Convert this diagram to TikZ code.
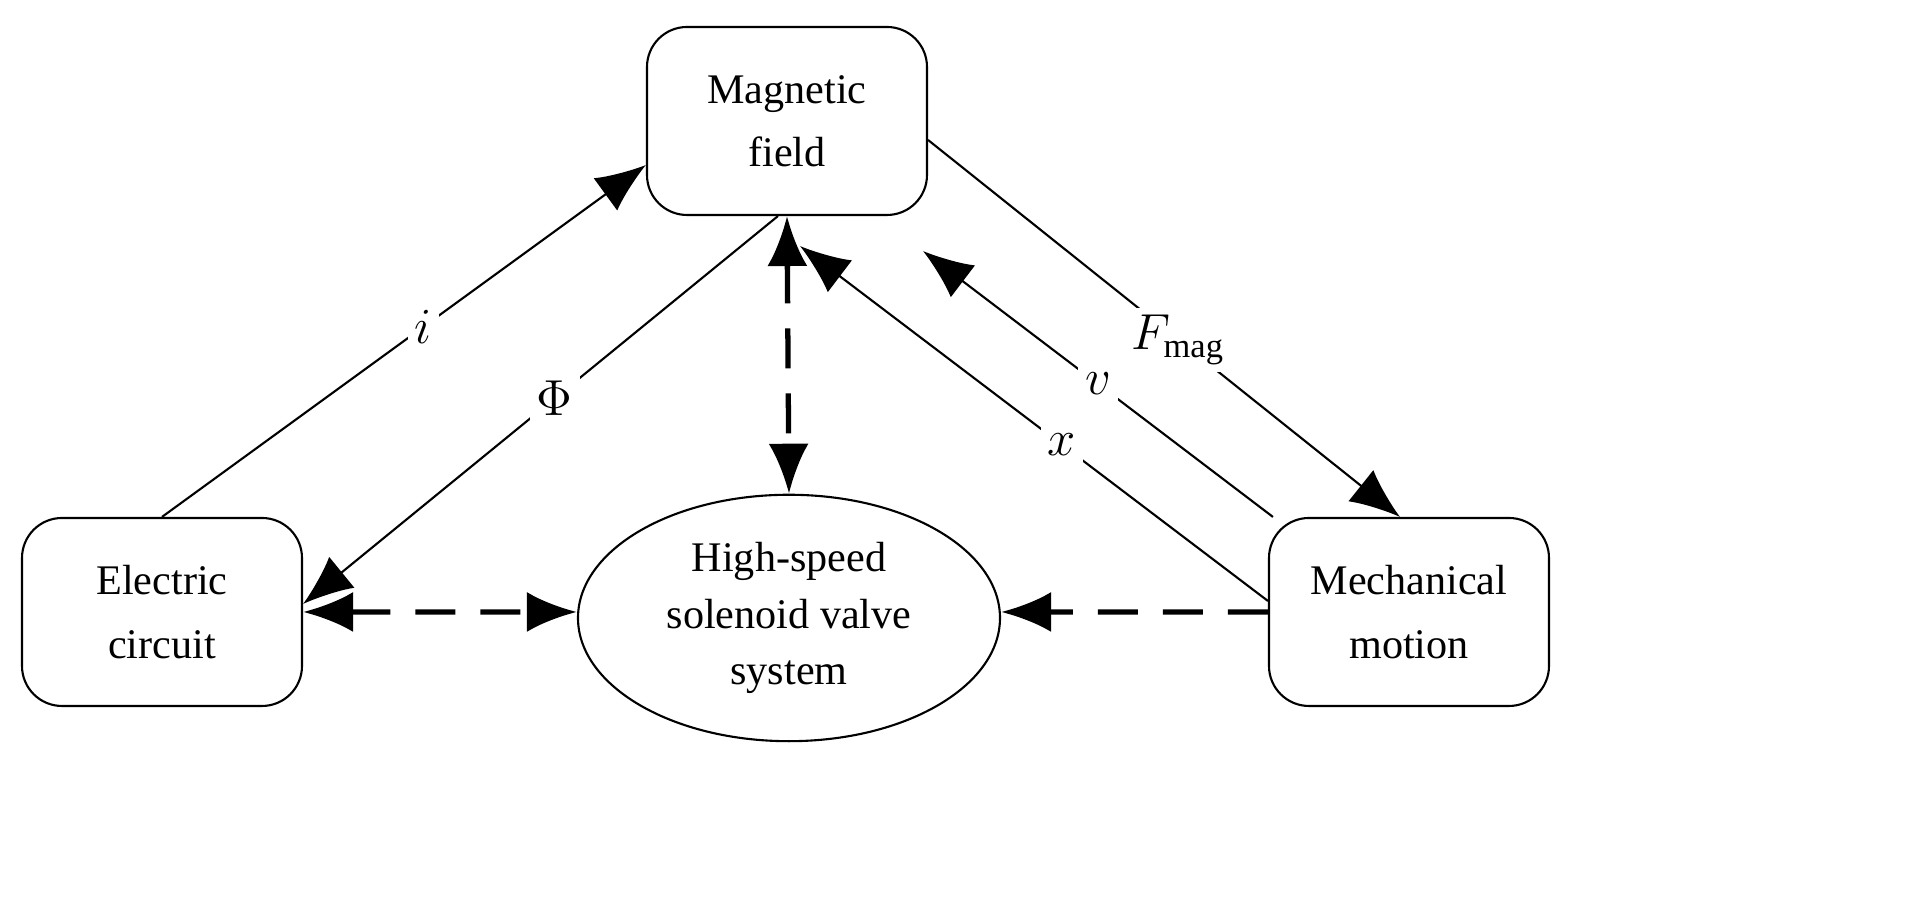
\documentclass[tikz,border=0pt]{standalone}
\usepackage{fontspec}
\setmainfont{Liberation Serif}
\usetikzlibrary{shapes,arrows.meta,positioning,calc}
\begin{document}
\begin{tikzpicture}

  \tikzset{main node/.style={rectangle, draw, line width=0.6pt, align=center,
  		text centered, rounded corners=4mm, minimum width=2.8cm, minimum height=1.88cm,
  		font=\fontsize{12}{18}\selectfont}, }
  \tikzset{sys node/.style={ellipse, draw, line width=0.6pt, align=center,
  		minimum width=4.22cm, minimum height=1.88cm, font=\fontsize{12}{16}\selectfont}, }
  \tikzset{linea/.style={line width=0.6pt, -{Latex[length=5mm,width=4mm]}}, }
  \tikzset{lineb/.style={line width=1.5pt, dash pattern=on 4mm off 2.5mm}, }
  \tikzset{lab/.style={fill=white, inner sep=2pt, font=\fontsize{14}{14}\selectfont}, }

   \path[fill=white] (0,0) rectangle (19.21,9.22);

   \node[main node] (mag)  at (7.87,8.01) {Magnetic\\field};
   \node[main node] (elec) at (1.62,3.10) {Electric\\circuit};
   \node[main node] (mech) at (14.09,3.10) {Mechanical\\motion};
   \node[sys node]  (sys)  at (7.89,3.04) {High-speed\\solenoid valve\\system};
   \coordinate (vend) at ($(mag.south east)+(-0.05,-0.35)$);
   \coordinate (xend) at ($(mag.south)+(0.13,-0.3)$);
%
  \draw[linea] (elec.north) -- node[lab,pos=0.54] {$i$} ([yshift=-0.44cm]mag.west);
  \draw[linea] ([xshift=-0.09cm]mag.south) -- node[lab,pos=0.47] {$\Phi$} ([yshift=0.08cm]elec.east);
  \draw[linea] ([yshift=-0.19cm]mag.east) -- node[lab,pos=0.53] {$F_{\mathrm{mag}}$} ([xshift=-0.09cm]mech.north);
  \draw[linea] ([xshift=0.05cm]mech.north west) -- node[lab,pos=0.5] {$v$} (vend);
  \draw[linea] ([yshift=0.11cm]mech.west) -- node[lab,pos=0.44] {$x$} (xend);
%
  \draw[lineb, {Latex[length=5mm,width=4mm]}-{Latex[length=5mm,width=4mm]}] (mag.south) -- (sys.north);
  \draw[lineb, {Latex[length=5mm,width=4mm]}-{Latex[length=5mm,width=4mm]}] (elec.east) -- ([yshift=0.06cm]sys.west);
  \draw[lineb, -{Latex[length=5mm,width=4mm]}] (mech.west) -- ([yshift=0.06cm]sys.east);
%
\end{tikzpicture}
\end{document}
